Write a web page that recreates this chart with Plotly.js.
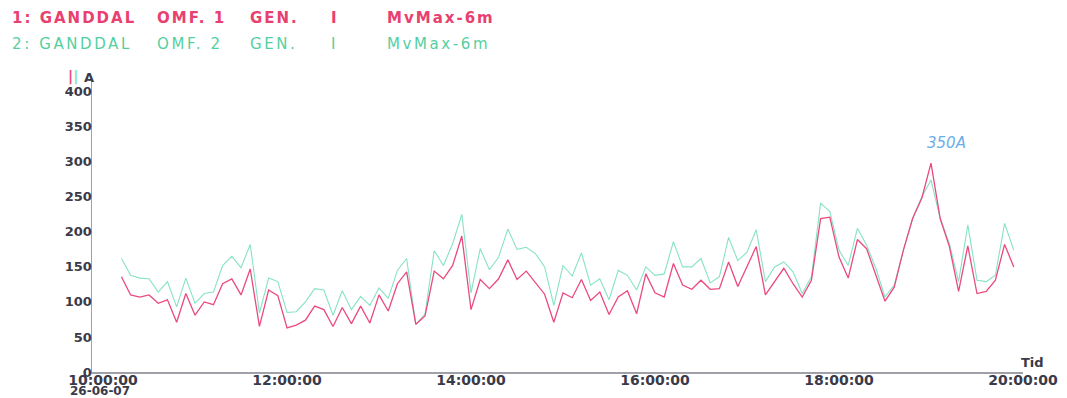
<!DOCTYPE html>
<html>
<head>
<meta charset="utf-8">
<script src="https://cdn.plot.ly/plotly-3.0.1.min.js"></script>
<style>html,body{margin:0;padding:0;background:#fff;}#chart{width:1067px;height:398px;}</style>
</head>
<body>
<div id="chart"></div>
<script>
// Sampling grid: 6-minute max values (MvMax-6m), first sample 10:12 on 26-06-07
const DAY = "2007-06-26";
const FIRST_SAMPLE = "10:12";
const STEP_MIN = 6;

// Series 1: GANDDAL OMF. 1 GEN. I (A)
const omf1 = [136,110,107,110,98,103,71,112,81,100,96,126,133,110,147,65,117,109,63,
  67,74,94,89,65,92,69,94,70,110,87,126,143,68,80,144,133,152,194,89,
  132,119,133,160,132,144,127,111,71,113,106,132,102,114,82,107,116,83,140,113,
  107,155,124,118,131,118,119,157,122,150,179,110,129,148,126,107,131,219,221,164,
  134,189,176,140,101,121,174,219,248,298,219,179,115,180,112,115,131,182,150];

// Series 2: GANDDAL OMF. 2 GEN. I (A)
const omf2 = [162,138,134,133,114,129,93,134,98,112,114,152,165,149,182,84,134,129,85,
  86,100,119,117,81,116,89,108,95,120,105,145,162,68,83,173,152,183,225,113,
  176,146,164,204,175,178,169,150,95,152,137,170,124,133,103,145,138,117,150,138,
  140,186,150,150,162,127,136,192,159,171,203,129,150,157,143,112,136,241,229,174,
  152,205,181,148,107,124,174,219,250,274,219,183,129,210,131,129,138,212,174];

const tickTimes = ["10:00:00","12:00:00","14:00:00","16:00:00","18:00:00","20:00:00"];
const dateLabel = "26-06-07";
const yTicks = [0,50,100,150,200,250,300,350,400];
const legend1 = ["1: GANDDAL","OMF. 1","GEN.","I","MvMax-6m"];
const legend2 = ["2: GANDDAL","OMF. 2","GEN.","I","MvMax-6m"];
const noteText = "350A";

function pad(n){return (n<10?"0":"")+n;}
const [h0,m0] = FIRST_SAMPLE.split(":").map(Number);
const times = omf1.map((_,i)=>{
  const t = h0*60+m0+i*STEP_MIN;
  return DAY+" "+pad(Math.floor(t/60))+":"+pad(t%60)+":00";
});

const RED = "#ea4a7c", GREEN = "#86e3c4";
const RED_T = "#e8406f", GREEN_T = "#55cf9f";
const AXTXT = "#3a3a48";
const segX = [10,155,248,329,385];
const W = 1067, ML = 92, MR = 44, PW = W-ML-MR;
const px2paper = p => (p-ML)/PW;

const annotations = [];
legend1.forEach((s,i)=>annotations.push({xref:"paper",yref:"paper",x:px2paper(segX[i]),y:1.2,xanchor:"left",yanchor:"middle",showarrow:false,
  text:'<span style="letter-spacing:2px">'+s+'</span>',font:{family:"DejaVu Sans",size:15,color:RED_T,weight:"bold"}}));
legend2.forEach((s,i)=>annotations.push({xref:"paper",yref:"paper",x:px2paper(segX[i]),y:1.112,xanchor:"left",yanchor:"middle",showarrow:false,
  text:'<span style="letter-spacing:2.6px">'+s+'</span>',font:{family:"DejaVu Sans",size:15,color:GREEN_T}}));
annotations.push({xref:"x",yref:"paper",x:DAY+" 10:00:00",y:-0.064,xanchor:"center",yanchor:"middle",showarrow:false,
  text:dateLabel,font:{family:"DejaVu Sans",size:12,color:AXTXT,weight:"bold"},xshift:-3});
annotations.push({xref:"paper",yref:"paper",x:0,y:1.0,xanchor:"right",yanchor:"bottom",showarrow:false,
  text:"A",font:{family:"DejaVu Sans",size:13,color:AXTXT,weight:"bold"},xshift:4,yshift:-10});
annotations.push({xref:"paper",yref:"paper",x:0,y:1.0,xanchor:"right",yanchor:"bottom",showarrow:false,
  text:'<span style="color:'+RED+'">|</span><span style="color:'+GREEN+'">|</span>',font:{family:"DejaVu Sans",size:14,color:RED,weight:"bold"},xshift:-12,yshift:-10});
annotations.push({xref:"paper",yref:"paper",x:1,y:0,xanchor:"left",yanchor:"bottom",showarrow:false,
  text:"Tid",font:{family:"DejaVu Sans",size:13,color:AXTXT,weight:"bold"},xshift:-4});
annotations.push({xref:"x",yref:"y",x:DAY+" 19:10:00",y:327,xanchor:"center",yanchor:"middle",showarrow:false,
  text:noteText,font:{family:"DejaVu Sans",size:15,color:"#6aaee8",style:"italic"}});

const data = [
  {x:times,y:omf2,type:"scatter",mode:"lines",line:{color:GREEN,width:1.1},hoverinfo:"skip",name:"OMF. 2"},
  {x:times,y:omf1,type:"scatter",mode:"lines",line:{color:RED,width:1.3},hoverinfo:"skip",name:"OMF. 1"}
];

const layout = {
  width:W,height:398,
  margin:{l:ML,r:MR,t:77,b:26,pad:0},
  paper_bgcolor:"#fff",plot_bgcolor:"#fff",
  showlegend:false,
  xaxis:{type:"date",range:[DAY+" 09:52:48",DAY+" 20:00:00"],
    tickmode:"array",tickvals:tickTimes.map(t=>DAY+" "+t),ticktext:tickTimes,
    showgrid:false,zeroline:false,showline:true,linecolor:"#a0a0a8",linewidth:1.5,ticks:"",
    ticklabelstandoff:-5,
    tickfont:{family:"DejaVu Sans",size:14,color:AXTXT,weight:"bold"}},
  yaxis:{range:[0,421],tickmode:"array",tickvals:yTicks,ticktext:yTicks.map(String),
    showgrid:false,zeroline:false,showline:true,linecolor:"#a0a0a8",linewidth:1.5,ticks:"",
    ticklabelstandoff:-4,
    tickfont:{family:"DejaVu Sans",size:13,color:AXTXT,weight:"bold"}},
  annotations:annotations
};

Plotly.newPlot("chart",data,layout,{staticPlot:true,displayModeBar:false});
</script>
</body>
</html>
